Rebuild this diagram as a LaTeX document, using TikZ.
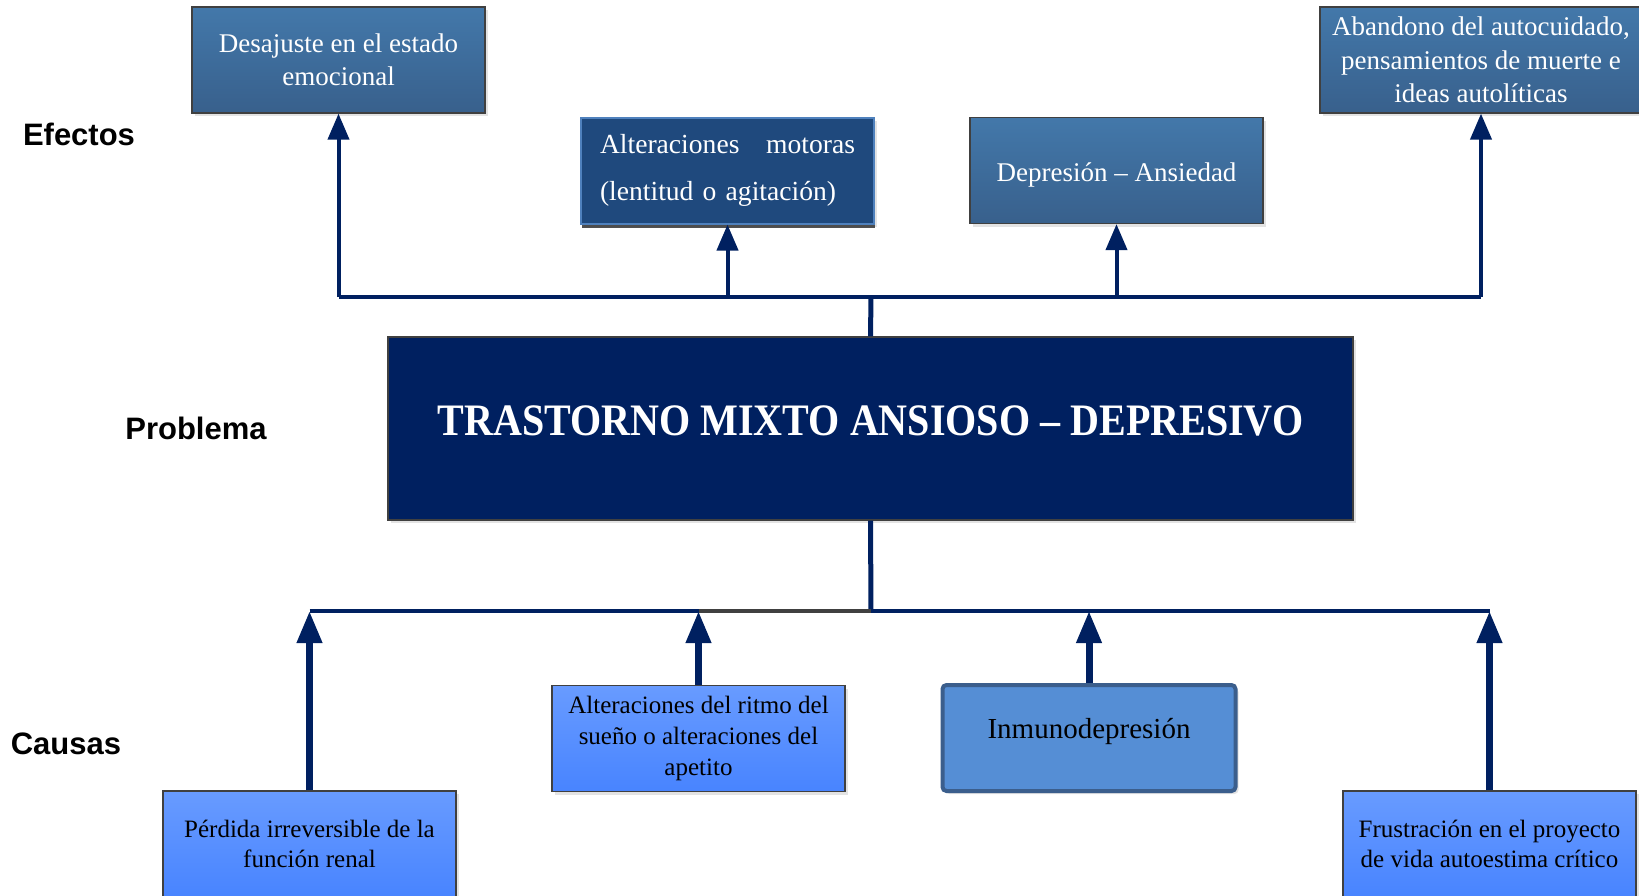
\documentclass[tikz,border=0pt]{standalone}
\usepackage{fontspec}
\setmainfont{Liberation Serif}
\newfontfamily\rotulofont{Liberation Sans}
\newfontfamily\titulofont[FakeStretch=0.89]{Liberation Serif}
\usetikzlibrary{arrows.meta,shadows}

\definecolor{azulmarino}{RGB}{0,32,96}
\definecolor{efectoarriba}{RGB}{67,120,170}
\definecolor{efectoabajo}{RGB}{56,96,140}
\definecolor{motorafill}{RGB}{31,73,125}
\definecolor{motoraborde}{RGB}{79,129,189}
\definecolor{causaarriba}{RGB}{104,155,255}
\definecolor{causaabajo}{RGB}{72,132,255}
\definecolor{inmunofill}{RGB}{85,142,213}
\definecolor{inmunoborde}{RGB}{59,94,140}
\definecolor{grisborde}{RGB}{64,64,64}

\begin{document}
\begin{tikzpicture}[x=0.5pt,y=-0.5pt,
    caja/.style={rectangle, draw=grisborde, line width=0.6pt, align=center, inner sep=0pt,
      minimum width=146.5pt, minimum height=53pt,
      drop shadow={shadow xshift=1.5pt, shadow yshift=-1.5pt, opacity=.22}},
    efecto/.style={caja, top color=efectoarriba, bottom color=efectoabajo, text=white,
      font=\fontsize{13.5}{16.7}\selectfont},
    causa/.style={caja, top color=causaarriba, bottom color=causaabajo, text=black,
      font=\fontsize{12.5}{15.3}\selectfont},
    rotulo/.style={font=\rotulofont\bfseries\fontsize{15.5}{18}\selectfont},
    linea/.style={draw=azulmarino, line width=2pt, line join=round},
    efflecha/.style={linea, -{Triangle[width=10.5pt,length=13pt]}},
    caflecha/.style={linea, line width=3.5pt, -{Triangle[width=12pt,length=16pt]}}]
  \useasboundingbox (0,0) rectangle (1639,895);

  % Labels
  \node[rotulo] (efectos) at (79,134) {Efectos};
  \node[rotulo] (problemalbl) at (196,428) {Problema};
  \node[rotulo] (causas) at (66,744) {Causas};

  % Efectos
  \node[efecto] (desajuste) at (338.5,60) {Desajuste en el estado\\emocional};
  \node[efecto, fill=motorafill, draw=motoraborde, line width=1pt, top color=motorafill, bottom color=motorafill,
    font=\fontsize{13.8}{23.5}\selectfont, align=left, text width=127.5pt,
    drop shadow={shadow xshift=0.6pt, shadow yshift=-2pt, opacity=.85, fill=black!80}]
    (motoras) at (727.5,170.5) {Alteraciones\hfill motoras\\(lentitud o agitación)};
  \node[efecto, text height=11pt, text depth=0pt] (ansiedad) at (1116.5,170.5) {Depresión – Ansiedad};
  \node[efecto, minimum width=161pt] (abandono) at (1481,60)
    {Abandono del autocuidado,\\pensamientos de muerte e\\ideas autolíticas};

  % Problema
  \node[rectangle, fill=azulmarino, draw=grisborde, line width=0.6pt, text=white,
    minimum width=482.5pt, minimum height=91.5pt, text height=12pt, text depth=4.7pt,
    font=\titulofont\bfseries\fontsize{22.5}{26}\selectfont,
    drop shadow={shadow xshift=1.5pt, shadow yshift=-1.5pt, opacity=.22}]
    (problema) at (870.5,428.5) {TRASTORNO MIXTO ANSIOSO – DEPRESIVO};

  % Causas
  \node[causa] (perdida) at (309.5,844) {Pérdida irreversible de la\\función renal};
  \node[causa] (ritmo) at (698.5,738.5) {Alteraciones del ritmo del\\sueño o alteraciones del\\apetito};
  \node[caja, fill=inmunofill, draw=inmunoborde, line width=2pt, rounded corners=2pt,
    text height=6pt, text depth=5.4pt,
    font=\fontsize{14.5}{17}\selectfont] (inmuno) at (1089,738) {Inmunodepresión};
  \node[causa] (frustracion) at (1489.5,844) {Frustración en el proyecto\\de vida autoestima crítico};

  % Junctions
  \coordinate (ef) at (871,297);
  \coordinate (ca) at (871,611);

  % Effect tree
  \draw[linea, line width=2.5pt] (problema.north) -- (ef);
  \draw[linea] (desajuste.south |- ef) -- (abandono.south |- ef);
  \draw[efflecha] (desajuste.south |- ef) -- (desajuste.south);
  \draw[efflecha] (motoras.south |- ef) -- (motoras.south);
  \draw[efflecha] (ansiedad.south |- ef) -- (ansiedad.south);
  \draw[efflecha] (abandono.south |- ef) -- (abandono.south);

  % Cause tree
  \draw[linea, line width=2.5pt] (problema.south) -- (ca);
  \draw[linea] (perdida.north |- ca) -- (ritmo.north |- ca);
  \draw[linea, draw=grisborde] (ritmo.north |- ca) -- (ca);
  \draw[linea] (ca) -- (frustracion.north |- ca);
  \draw[caflecha] (perdida.north) -- (perdida.north |- ca);
  \draw[caflecha] (ritmo.north) -- (ritmo.north |- ca);
  \draw[caflecha] (inmuno.north) -- (inmuno.north |- ca);
  \draw[caflecha] (frustracion.north) -- (frustracion.north |- ca);
\end{tikzpicture}
\end{document}
